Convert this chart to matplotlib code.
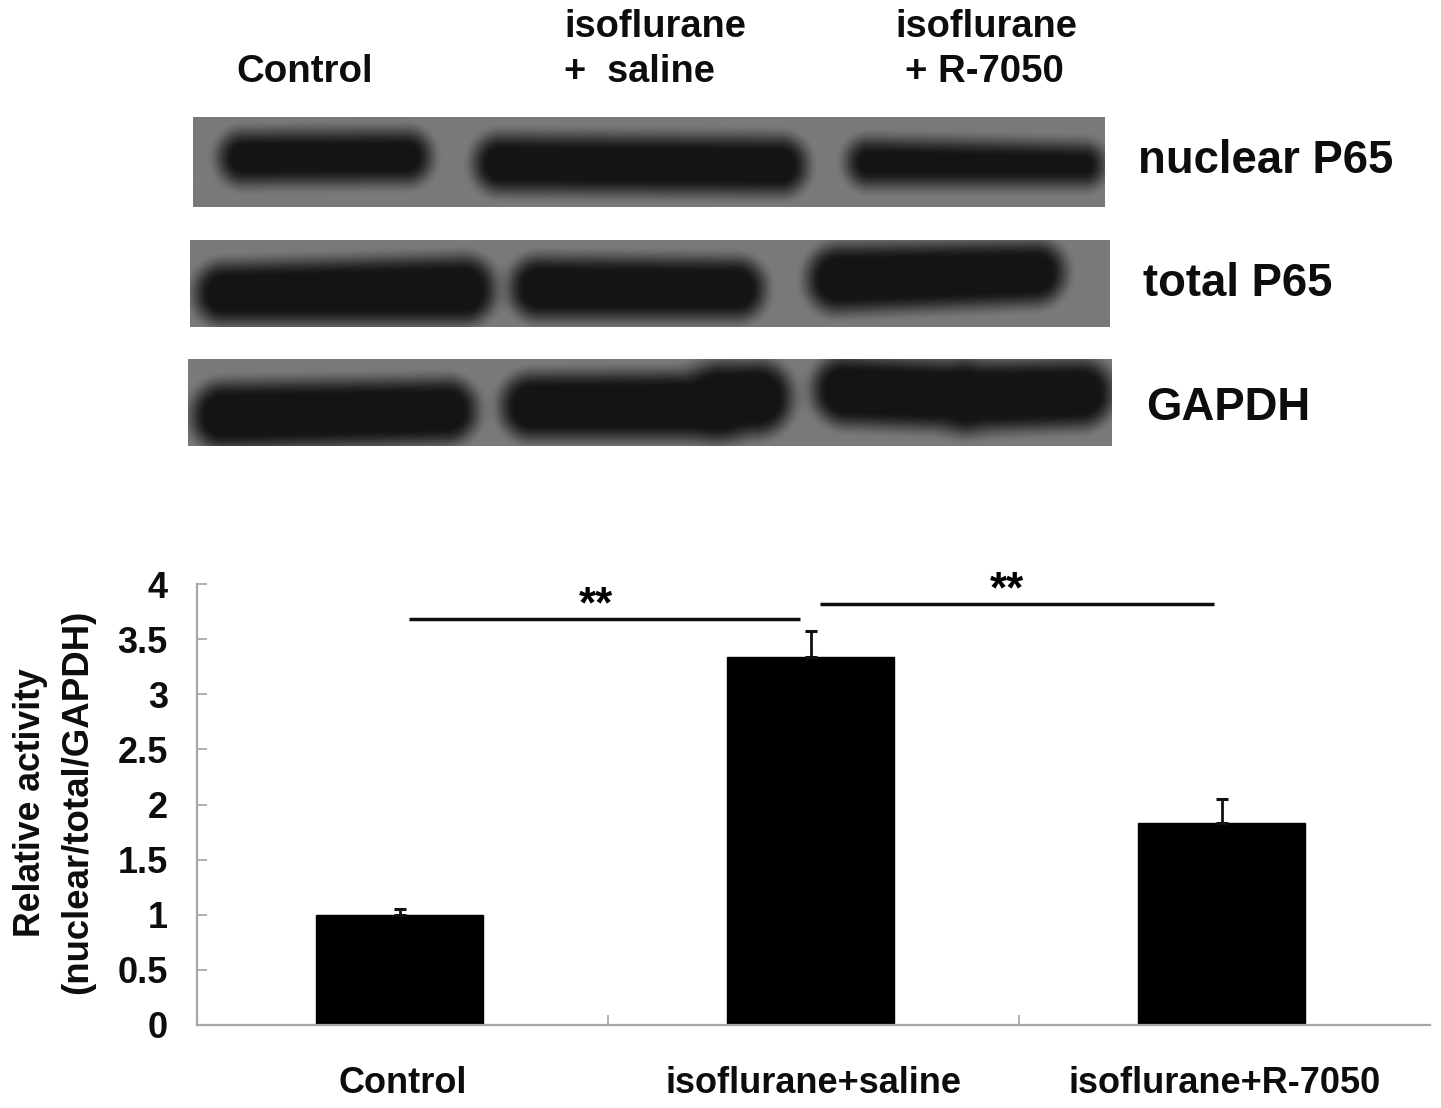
import numpy as np
import matplotlib
matplotlib.use('Agg')

import matplotlib.pyplot as plt

W, H = 1441, 1108

plt.rcParams['font.family'] = ['Liberation Sans', 'DejaVu Sans']
plt.rcParams['font.weight'] = 'bold'

# bar chart values
categories = ['Control', 'isoflurane+saline', 'isoflurane+R-7050']
activity = [1.0, 3.34, 1.83]
activity_err = [0.05, 0.23, 0.22]
y_ticks = [0, 0.5, 1, 1.5, 2, 2.5, 3, 3.5, 4]
y_tick_labels = ['0', '0.5', '1', '1.5', '2', '2.5', '3', '3.5', '4']

# significance lines: start, end (category units), height, star position
sig_lines = [(0.015, 0.968, 3.68, 0.47), (1.016, 1.975, 3.82, 1.47)]

# blot panels in pixels: left, right, top, bottom
blot_names = ['nuclear P65', 'total P65', 'GAPDH']
blot_panels = [(193, 1105, 117, 207), (190, 1110, 240, 327), (188, 1112, 359, 446)]
# lanes: x0, x1, top at left, top at right, bottom at left, bottom at right
blot_lanes = [
    [(225, 425, 139, 138, 178, 177), (480, 801, 142, 144, 186, 188), (853, 1098, 146, 151, 180, 180)],
    [(201, 489, 270, 262, 317, 317), (516, 759, 263, 265, 313, 313), (813, 1059, 252, 248, 307, 297)],
    [(198, 471, 389, 385, 443, 436), (507, 745, 380, 378, 433, 433), (690, 786, 370, 367, 431, 428),
     (819, 985, 362, 369, 418, 424), (945, 1107, 369, 366, 426, 420)],
]


def box(left, right, top, bottom):
    # pixel box -> figure fractions
    return [left / W, 1 - bottom / H, (right - left) / W, (bottom - top) / H]


def draw_blot(fig, panel, lanes):
    left, right, top, bottom = panel
    ax = fig.add_axes(box(left, right, top, bottom))
    ax.axis('off')
    xx, yy = np.meshgrid(np.arange(left, right) + 0.5, np.arange(top, bottom) + 0.5)
    dist = np.full(xx.shape, 200.0)
    for x0, x1, tl, tr, bl, br in lanes:
        t = np.clip((xx - x0) / (x1 - x0), 0, 1)
        ytop = tl + (tr - tl) * t
        ybot = bl + (br - bl) * t
        yc = (ytop + ybot) / 2
        hh = (ybot - ytop) / 2
        xc = (x0 + x1) / 2
        hw = (x1 - x0) / 2
        rad = hh * 0.95
        dx = np.maximum(np.abs(xx - xc) - (hw - rad), 0)
        dy = np.maximum(np.abs(yy - yc) - (hh - rad), 0)
        d = np.hypot(dx, dy) - rad
        # smooth union so overlapping lobes of one lane merge
        k = np.clip(0.5 + 0.5 * (dist - d) / 14, 0, 1)
        dist = dist * (1 - k) + d * k - 14 * k * (1 - k)
    s = np.clip((dist + 9) / 28, 0, 1)
    s = s * s * (3 - 2 * s)
    img = 20 + (122 - 20) * s
    ax.imshow(img, cmap='gray', vmin=0, vmax=255, aspect='auto', interpolation='bilinear')


def label(fig, x, y, text, size, ha='left'):
    fig.text(x / W, 1 - y / H, text, fontsize=size, fontweight='bold', ha=ha, va='center',
             color='#0d0d0d')


fig = plt.figure(figsize=(W / 100, H / 100), dpi=100)

for panel, lanes in zip(blot_panels, blot_lanes):
    draw_blot(fig, panel, lanes)

# labels above and beside the blots
label(fig, 236, 72, 'Control', 27.6)
label(fig, 564, 27, 'isoflurane', 27.4)
label(fig, 564, 72, '+  saline', 27.4)
label(fig, 895, 27, 'isoflurane', 27.4)
label(fig, 905, 72, '+ R-7050', 27.6)
label(fig, 1138, 161, blot_names[0], 32.8)
label(fig, 1143, 284, blot_names[1], 32.8)
label(fig, 1146, 408, blot_names[2], 32.8)

# bar chart
ax = fig.add_axes(box(197, 1430, 584, 1025))
x = np.arange(len(categories))
ax.bar(x - 0.007, activity, width=0.405, color='black', edgecolor='black', linewidth=1)
ax.errorbar(x - 0.007, activity, yerr=[[0] * 3, activity_err], fmt='none', ecolor='#111111',
            elinewidth=2, capsize=4.5, capthick=2.2)
ax.set_xlim(-0.5, 2.5)
ax.set_ylim(0, 4)

for side in ['top', 'right']:
    ax.spines[side].set_visible(False)
for side in ['left', 'bottom']:
    ax.spines[side].set_color('#a6a6a6')
    ax.spines[side].set_linewidth(1.6)

ax.set_yticks(y_ticks)
ax.set_yticklabels(y_tick_labels, fontsize=26, fontweight='bold', color='#0d0d0d')
ax.tick_params(axis='y', direction='in', length=7, width=1.4, color='#b0b0b0', pad=21)
ax.set_xticks([0.5, 1.5])
ax.set_xticklabels([])
ax.tick_params(axis='x', direction='in', length=7, width=1.4, color='#b0b0b0')
ax.set_xticks(x, minor=True)
ax.set_xticklabels(categories, minor=True, fontsize=26, fontweight='bold', color='#0d0d0d')
ax.tick_params(axis='x', which='minor', length=0, pad=29.5)

for start, end, level, star_x in sig_lines:
    ax.plot([start, end], [level, level], color='#0d0d0d', lw=2.5, clip_on=False,
            solid_capstyle='butt')
    ax.text(star_x, level + 0.12, '**', fontsize=31.5, fontweight='bold', ha='center',
            va='center', color='black')

fig.text(31 / W, 1 - 803 / H, 'Relative activity', rotation=90, fontsize=25.7, fontweight='bold',
         ha='center', va='center', color='#0d0d0d')
fig.text(78 / W, 1 - 802 / H, '(nuclear/total/GAPDH)', rotation=90, fontsize=26.4,
         fontweight='bold', ha='center', va='center', color='#0d0d0d')

plt.savefig('out.png', dpi=100)
